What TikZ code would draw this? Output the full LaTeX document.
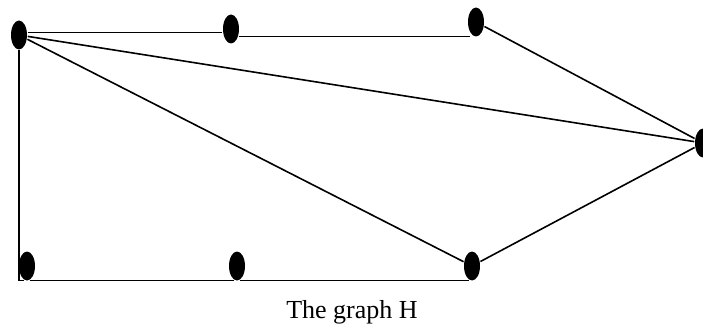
\documentclass[tikz,border=0pt]{standalone}
\usepackage{fontspec}
\setmainfont{Liberation Serif}
\usepackage{tikz}
\usetikzlibrary{shapes.geometric}

\begin{document}
\begin{tikzpicture}[x=1pt, y=-1pt, line width=1.6pt,
  vertex/.style={ellipse, fill=black, inner sep=0pt, minimum width=16pt, minimum height=29pt}]

\useasboundingbox (0,0) rectangle (703,326);

% Vertices
\foreach \n/\x/\y in {a/19/35, b/231/29, c/476/22, d/703/143, e/472/266, f/237/266, g/27/266}
{
\node[vertex] (\n) at (\x,\y) {};
}

% Top path
\draw (a.15) -- (a.15 -| b.west);
\draw (b.-45) -- (b.-45 -| c.-120);
\draw (c) -- (d);

% Diagonals
\draw (a) -- (d);
\draw (a) -- (e);
\draw (e) -- (d);

% Left side and bottom
\draw (a.south) |- (g.-100);
\draw (g.-80) -- (f.-100);
\draw (f.-80) -- (e.-100);

% Caption
\node[anchor=base, font=\fontsize{26}{30}\selectfont] (cap) at (352,318) {The graph H};

\end{tikzpicture}
\end{document}
